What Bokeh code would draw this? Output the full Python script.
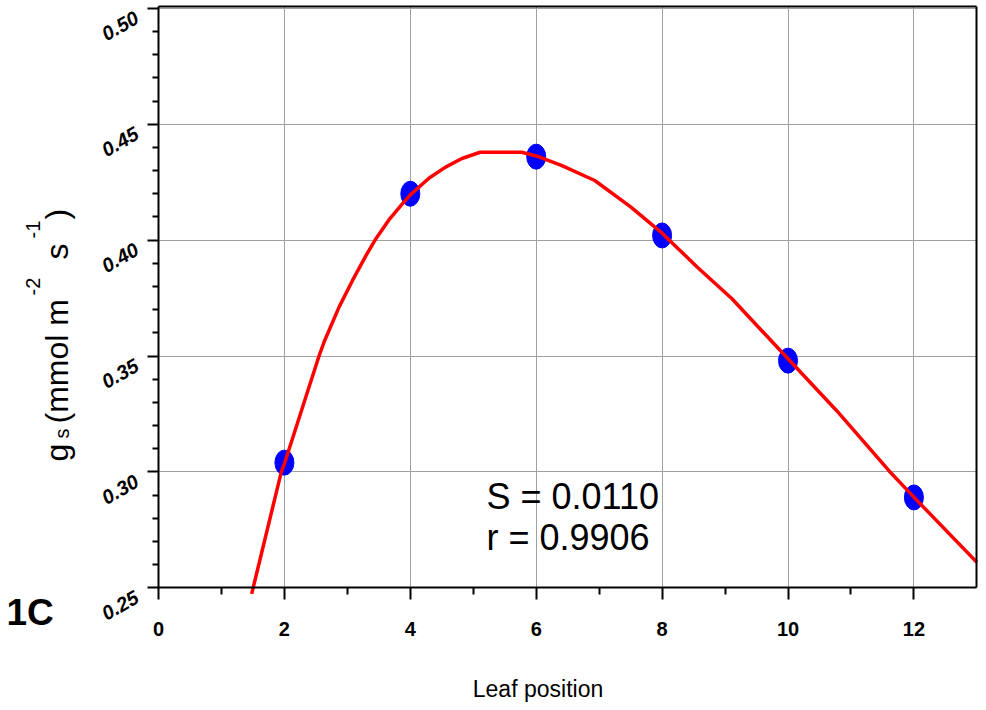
import math
import numpy as np
from bokeh.plotting import figure
from bokeh.models import Label, Range1d, FixedTicker, ColumnDataSource, LinearAxis, Grid
from bokeh.embed import file_html
from bokeh.resources import INLINE

# ---- data ----
leaf_position = [2, 4, 6, 8, 10, 12]
gs_values = [0.304, 0.420, 0.436, 0.402, 0.348, 0.289]

fit_x = [1.48, 1.95, 2.00, 2.55, 2.64, 2.87, 3.08, 3.30, 3.44, 3.66, 3.87, 4.00, 4.30, 4.56,
         4.82, 5.11, 5.77, 6.00, 6.40, 6.93, 7.50, 8.00, 8.56, 9.11, 10.00, 10.77,
         11.61, 12.00, 13.00]
fit_y = [0.2474, 0.2999, 0.3035, 0.3500, 0.3567, 0.3712, 0.3825, 0.3935, 0.4000, 0.4087,
         0.4155, 0.4195, 0.4268, 0.4315, 0.4352, 0.4379, 0.4379, 0.4363, 0.4322, 0.4257,
         0.4143, 0.4030, 0.3883, 0.3747, 0.3488, 0.3265, 0.3003, 0.2891, 0.2610]

x_ticks = [0, 2, 4, 6, 8, 10, 12]
x_minor_ticks = [1, 3, 5, 7, 9, 11]
y_ticks = [0.25, 0.30, 0.35, 0.40, 0.45, 0.50]
y_tick_labels = ["0.25", "0.30", "0.35", "0.40", "0.45", "0.50"]
y_minor_ticks = [round(0.25 + 0.01 * i, 2) for i in range(26) if i % 5]

stat_lines = ["S = 0.0110", "r = 0.9906"]

FONT = "Liberation Sans"

# plot box (data units)
X0, X1 = 0, 13
Y0, Y1 = 0.25, 0.5007

# canvas is 978 x 702; frame covers the whole canvas, axes are placed at fixed locations
SX = 62.95      # px per x unit
SY = 2318.0     # px per y unit
XL = 158.0      # canvas px of x = 0
YB = 587.3      # canvas px of y = 0.25
W, H = 978, 702
BASE_SHIFT = 0.36  # Label anchor -> alphabetic baseline offset, in em

def dx(px):
    return (px - XL) / SX

def dy(py):
    return Y0 + (YB - py) / SY

def ypx(v):
    return YB - (v - Y0) * SY

p = figure(width=W, height=H,
           x_range=Range1d(dx(0), dx(W)), y_range=Range1d(dy(H), dy(0)),
           output_backend="svg", toolbar_location=None,
           min_border=0, min_border_left=0, min_border_right=0,
           min_border_top=0, min_border_bottom=0)
p.outline_line_color = None
p.background_fill_color = "white"
p.border_fill_color = "white"

# main axes
p.xaxis.fixed_location = Y0
p.yaxis.fixed_location = X0
p.xaxis.bounds = (X0, X1)
p.yaxis.bounds = (Y0, Y1)
p.xaxis.ticker = FixedTicker(ticks=x_ticks, minor_ticks=x_minor_ticks)
p.yaxis.ticker = FixedTicker(ticks=y_ticks, minor_ticks=y_minor_ticks)
# y tick labels are drawn below as rotated labels, so the axis itself shows none
p.yaxis.major_label_overrides = {t: "" for t in y_ticks}

for ax in (p.xaxis, p.yaxis):
    ax.axis_line_width = 2
    ax.axis_line_color = "black"
    ax.major_tick_line_width = 2
    ax.minor_tick_line_width = 2
    ax.major_tick_line_color = "black"
    ax.minor_tick_line_color = "black"
    ax.major_tick_in = 0
    ax.minor_tick_in = 0
    ax.major_label_text_font = FONT
    ax.major_label_text_color = "black"

p.xaxis.major_tick_out = 12
p.xaxis.minor_tick_out = 7
p.xaxis.major_label_text_font_size = "20px"
p.xaxis.major_label_text_font_style = "bold"
p.xaxis.major_label_standoff = 22

p.yaxis.major_tick_out = 11
p.yaxis.minor_tick_out = 6

# top and right box lines
top_ax = LinearAxis(fixed_location=Y1, bounds=(X0, X1), ticker=FixedTicker(ticks=[], minor_ticks=[]),
                    axis_line_width=2, axis_line_color="black",
                    major_tick_line_color=None, minor_tick_line_color=None,
                    major_label_text_font_size="0px")
right_ax = LinearAxis(fixed_location=X1, bounds=(Y0, Y1), ticker=FixedTicker(ticks=[], minor_ticks=[]),
                      axis_line_width=2, axis_line_color="black",
                      major_tick_line_color=None, minor_tick_line_color=None,
                      major_label_text_font_size="0px")
p.add_layout(top_ax, "above")
p.add_layout(right_ax, "right")

# grid limited to the plot box
GRID_COLOR = "#a0a0a0"
if "cross_bounds" in Grid.properties():
    for g in p.xgrid:
        g.grid_line_color = GRID_COLOR
        g.grid_line_width = 1
        g.cross_bounds = (Y0, Y1)
    for g in p.ygrid:
        g.grid_line_color = GRID_COLOR
        g.grid_line_width = 1
        g.cross_bounds = (X0, X1)
else:
    p.xgrid.visible = False
    p.ygrid.visible = False
    p.segment(x0=x_ticks, y0=[Y0] * len(x_ticks), x1=x_ticks, y1=[Y1] * len(x_ticks),
              line_color=GRID_COLOR, line_width=1, level="underlay")
    p.segment(x0=[X0] * len(y_ticks), y0=y_ticks, x1=[X1] * len(y_ticks), y1=y_ticks,
              line_color=GRID_COLOR, line_width=1, level="underlay")

# data
pts = ColumnDataSource(dict(x=leaf_position, y=gs_values))
p.ellipse(x="x", y="y", width=19, height=25, width_units="screen", height_units="screen",
          fill_color="#0000ff", line_color="#0000ff", source=pts)

fit = ColumnDataSource(dict(x=fit_x, y=fit_y))
p.line(x="x", y="y", line_color="#ff0000", line_width=3.5, source=fit)

def add_text(txt, px, py, size, style="normal", align="left", angle=0.0):
    """px, py: canvas position of the text's alphabetic baseline point
    (start for align='left', middle for 'center', end for 'right')."""
    shift = BASE_SHIFT * size
    # move the anchor against the rotated 'down' direction
    ax_ = px - shift * math.sin(angle)
    ay_ = py - shift * math.cos(angle)
    p.add_layout(Label(x=dx(ax_), y=dy(ay_), text=txt, text_font=FONT,
                       text_font_size=f"{size}px", text_font_style=style,
                       text_color="black", angle=angle, angle_units="rad",
                       text_baseline="alphabetic", text_align=align))

# y tick labels, tilted
for t, lab in zip(y_ticks, y_tick_labels):
    add_text(lab, 140, ypx(t) + 14, 20, style="bold italic", align="right", angle=math.pi / 6)

# statistics text
add_text(stat_lines[0], 486, 509, 36)
add_text(stat_lines[1], 486, 550, 36)

# x axis title
add_text("Leaf position", 537.5, 697, 23, align="center")

# panel tag
add_text("1C", 6, 625, 37, style="bold")

# y axis title built from pieces: g_s (mmol m^-2 s^-1)
up = math.pi / 2
add_text("g", 68, 461, 32, angle=up)
add_text("s", 69, 438, 20, angle=up)
add_text("(mmol m", 68, 423, 32, angle=up)
add_text("-2", 40, 295, 20, angle=up)
add_text("s", 68, 259, 32, angle=up)
add_text("-1", 40, 238, 20, angle=up)
add_text(")", 68, 219, 32, angle=up)

open("out.html", "w").write(file_html(p, INLINE))
